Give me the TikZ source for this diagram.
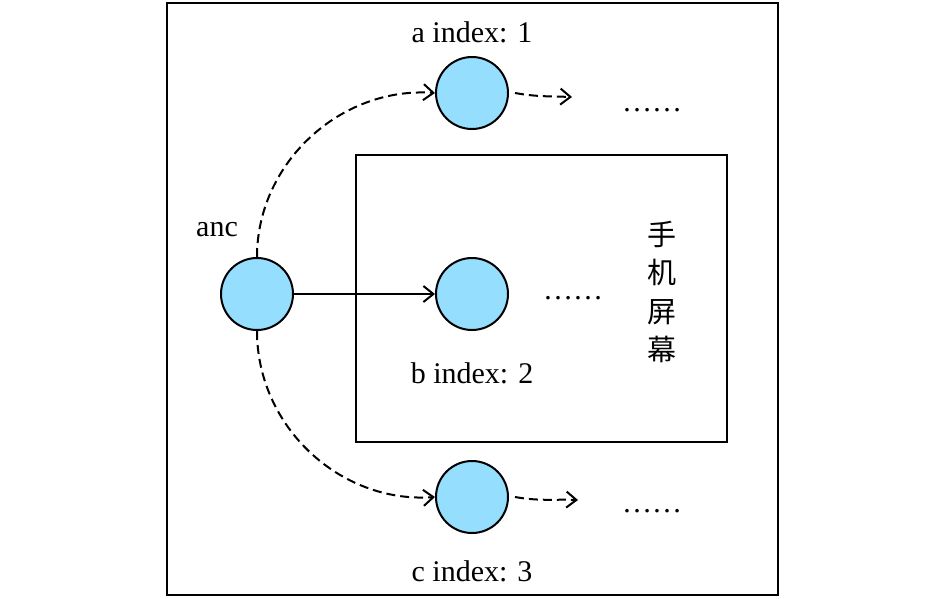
\documentclass[tikz,border=0pt]{standalone}
\usepackage{fontspec}
\setmainfont{Liberation Serif}
\newfontfamily\cjk{Noto Sans CJK SC}
\usetikzlibrary{arrows.meta}
\definecolor{ballblue}{RGB}{150,222,254}
\begin{document}
\begin{tikzpicture}[x=1pt,y=-1pt,
  ball/.style={circle,draw=black,line width=2pt,fill=ballblue,minimum size=72pt,inner sep=0pt},
  lbl/.style={font=\fontsize{30}{34}\selectfont,inner sep=0pt},
  conn/.style={line width=2pt,-{Straight Barb[length=10pt,width=16pt,line width=2pt]}},
  dconn/.style={conn,dash pattern=on 9pt off 5pt}]
\useasboundingbox (0,0) rectangle (945,598);
\node[draw,line width=1.8pt,minimum width=611pt,minimum height=592pt,inner sep=0pt] (outer) at (472.5,299) {};
\node[draw,line width=1.8pt,minimum width=371pt,minimum height=287pt,inner sep=0pt] (screen) at (541.5,298.5) {};
\node[ball] (anc) at (257,294) {};
\node[ball] (a) at (472,93) {};
\node[ball] (b) at (472,294) {};
\node[ball] (c) at (472,497) {};
\node[lbl] (la) at (472,32) {a index: 1};
\node[lbl] (lanc) at (217,230) {anc};
\node[lbl] (lb) at (472,373) {b index: 2};
\node[lbl] (lc) at (472,571) {c index: 3};
\node[lbl] (da) at (652,110) {……};
\node[lbl] (db) at (573,298) {……};
\node[lbl] (dc) at (652,511) {……};
\node[font=\cjk\fontsize{29}{38.5}\selectfont,align=center,inner sep=0pt] (scr) at (662,292) {手\\机\\屏\\幕};
\coordinate (ea) at (572,97);
\coordinate (ec) at (578,500);
\draw[dconn] (anc.north) to[out=90,in=176] (a.west);
\draw[dconn] (anc.south) to[out=-90,in=184] (c.west);
\draw[conn] (anc.east) -- (b.west);
\draw[dconn] ([xshift=6pt]a.east) to[out=-10,in=178] (ea);
\draw[dconn] ([xshift=6pt]c.east) to[out=-10,in=178] (ec);
\end{tikzpicture}
\end{document}
